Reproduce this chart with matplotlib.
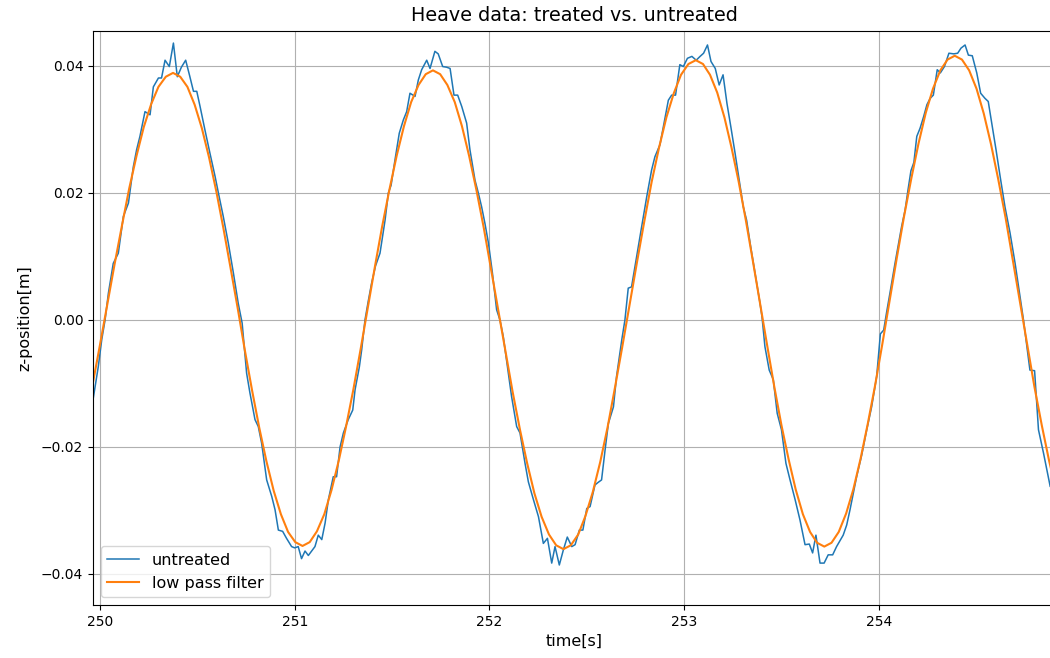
import matplotlib.pyplot as plt

# untreated signal
t_raw = [
    249.964, 249.991, 250.009, 250.026, 250.043, 250.068, 250.094, 250.120, 250.146, 250.171,
    250.188, 250.205, 250.231, 250.257, 250.274, 250.300, 250.316, 250.334, 250.356, 250.377,
    250.397, 250.418, 250.440, 250.460, 250.480, 250.497, 250.514, 250.539, 250.565, 250.591,
    250.608, 250.633, 250.659, 250.685, 250.710, 250.730, 250.753, 250.770, 250.796, 250.813,
    250.830, 250.856, 250.882, 250.899, 250.916, 250.938, 250.958, 250.984, 251.000, 251.018,
    251.035, 251.053, 251.070, 251.087, 251.104, 251.121, 251.139, 251.156, 251.173, 251.198,
    251.215, 251.233, 251.250, 251.275, 251.298, 251.310, 251.332, 251.344, 251.361, 251.378,
    251.395, 251.415, 251.438, 251.464, 251.481, 251.495, 251.515, 251.537, 251.558, 251.575,
    251.592, 251.618, 251.635, 251.652, 251.678, 251.695, 251.720, 251.737, 251.760, 251.780,
    251.798, 251.818, 251.837, 251.858, 251.883, 251.900, 251.926, 251.943, 251.960, 251.977,
    251.995, 252.015, 252.037, 252.054, 252.071, 252.097, 252.114, 252.140, 252.157, 252.183,
    252.200, 252.226, 252.252, 252.277, 252.298, 252.320, 252.337, 252.359, 252.380, 252.400,
    252.423, 252.440, 252.462, 252.480, 252.500, 252.517, 252.542, 252.558, 252.576, 252.594,
    252.611, 252.637, 252.653, 252.680, 252.696, 252.713, 252.730, 252.756, 252.782, 252.808,
    252.833, 252.850, 252.876, 252.893, 252.919, 252.936, 252.956, 252.978, 252.996, 253.017,
    253.040, 253.062, 253.082, 253.100, 253.120, 253.138, 253.160, 253.180, 253.200, 253.220,
    253.240, 253.262, 253.283, 253.304, 253.321, 253.342, 253.364, 253.390, 253.400, 253.415,
    253.437, 253.458, 253.478, 253.500, 253.523, 253.544, 253.570, 253.595, 253.621, 253.643,
    253.660, 253.677, 253.698, 253.719, 253.740, 253.763, 253.783, 253.800, 253.817, 253.835,
    253.852, 253.869, 253.886, 253.912, 253.938, 253.963, 253.989, 254.008, 254.025, 254.040,
    254.057, 254.083, 254.100, 254.117, 254.135, 254.150, 254.165, 254.180, 254.195, 254.212,
    254.230, 254.247, 254.264, 254.280, 254.300, 254.316, 254.337, 254.360, 254.385, 254.405,
    254.422, 254.443, 254.460, 254.480, 254.503, 254.523, 254.545, 254.562, 254.580, 254.602,
    254.623, 254.648, 254.674, 254.700, 254.725, 254.743, 254.760, 254.776, 254.800, 254.820,
    254.846, 254.880,
]
z_raw = [
    -0.0126, -0.0074, -0.0031, 0.0000, 0.0042, 0.0089, 0.0105, 0.0163, 0.0184, 0.0241,
    0.0268, 0.0289, 0.0328, 0.0323, 0.0367, 0.0381, 0.0381, 0.0409, 0.0399, 0.0436,
    0.0383, 0.0398, 0.0409, 0.0385, 0.0360, 0.0360, 0.0336, 0.0299, 0.0262, 0.0226,
    0.0200, 0.0163, 0.0121, 0.0074, 0.0026, -0.0005, -0.0084, -0.0115, -0.0157, -0.0168,
    -0.0194, -0.0252, -0.0278, -0.0299, -0.0331, -0.0333, -0.0344, -0.0357, -0.0359, -0.0357,
    -0.0376, -0.0364, -0.0371, -0.0364, -0.0357, -0.0339, -0.0346, -0.0320, -0.0283, -0.0247,
    -0.0247, -0.0200, -0.0178, -0.0157, -0.0142, -0.0110, -0.0074, -0.0047, 0.0000, 0.0030,
    0.0058, 0.0085, 0.0105, 0.0157, 0.0200, 0.0212, 0.0252, 0.0294, 0.0315, 0.0328,
    0.0357, 0.0352, 0.0378, 0.0394, 0.0409, 0.0396, 0.0423, 0.0419, 0.0399, 0.0398,
    0.0396, 0.0354, 0.0354, 0.0336, 0.0310, 0.0268, 0.0220, 0.0200, 0.0178, 0.0152,
    0.0121, 0.0075, 0.0016, 0.0000, -0.0026, -0.0084, -0.0121, -0.0168, -0.0178, -0.0226,
    -0.0255, -0.0283, -0.0310, -0.0352, -0.0344, -0.0383, -0.0357, -0.0386, -0.0362, -0.0342,
    -0.0357, -0.0354, -0.0331, -0.0331, -0.0297, -0.0294, -0.0260, -0.0256, -0.0252, -0.0205,
    -0.0163, -0.0137, -0.0089, -0.0031, 0.0000, 0.0050, 0.0052, 0.0100, 0.0147, 0.0194,
    0.0236, 0.0257, 0.0276, 0.0304, 0.0346, 0.0354, 0.0354, 0.0402, 0.0399, 0.0412,
    0.0415, 0.0409, 0.0415, 0.0420, 0.0433, 0.0407, 0.0396, 0.0370, 0.0386, 0.0341,
    0.0304, 0.0262, 0.0220, 0.0178, 0.0157, 0.0115, 0.0074, 0.0026, 0.0005, -0.0042,
    -0.0079, -0.0094, -0.0147, -0.0173, -0.0226, -0.0252, -0.0283, -0.0315, -0.0354, -0.0353,
    -0.0367, -0.0339, -0.0383, -0.0383, -0.0370, -0.0370, -0.0357, -0.0348, -0.0339, -0.0323,
    -0.0299, -0.0273, -0.0247, -0.0213, -0.0173, -0.0137, -0.0089, -0.0022, -0.0016, 0.0012,
    0.0042, 0.0089, 0.0118, 0.0147, 0.0173, 0.0205, 0.0235, 0.0248, 0.0289, 0.0302,
    0.0320, 0.0339, 0.0349, 0.0354, 0.0394, 0.0389, 0.0399, 0.0420, 0.0419, 0.0420,
    0.0428, 0.0433, 0.0417, 0.0416, 0.0389, 0.0357, 0.0349, 0.0344, 0.0310, 0.0268,
    0.0226, 0.0178, 0.0137, 0.0089, 0.0037, 0.0000, -0.0040, -0.0079, -0.0080, -0.0173,
    -0.0210, -0.0262,
]

# low pass filtered signal
t_filt = [
    249.963, 250.000, 250.038, 250.075, 250.113, 250.150, 250.188, 250.225, 250.263, 250.300,
    250.338, 250.375, 250.412, 250.449, 250.486, 250.523, 250.560, 250.597, 250.634, 250.671,
    250.708, 250.744, 250.781, 250.818, 250.855, 250.892, 250.929, 250.966, 251.003, 251.040,
    251.077, 251.114, 251.152, 251.189, 251.226, 251.263, 251.301, 251.338, 251.375, 251.412,
    251.449, 251.487, 251.524, 251.561, 251.598, 251.636, 251.673, 251.710, 251.747, 251.784,
    251.822, 251.859, 251.896, 251.933, 251.971, 252.008, 252.045, 252.082, 252.119, 252.157,
    252.194, 252.231, 252.268, 252.306, 252.343, 252.380, 252.418, 252.456, 252.493, 252.531,
    252.569, 252.607, 252.644, 252.682, 252.720, 252.758, 252.796, 252.833, 252.871, 252.909,
    252.947, 252.984, 253.022, 253.060, 253.097, 253.133, 253.170, 253.207, 253.243, 253.280,
    253.317, 253.353, 253.390, 253.427, 253.463, 253.500, 253.537, 253.573, 253.610, 253.647,
    253.683, 253.720, 253.757, 253.794, 253.832, 253.869, 253.906, 253.943, 253.981, 254.018,
    254.055, 254.092, 254.129, 254.167, 254.204, 254.241, 254.278, 254.316, 254.353, 254.390,
    254.427, 254.464, 254.502, 254.539, 254.576, 254.613, 254.651, 254.688, 254.725, 254.762,
    254.799, 254.837, 254.874, 254.911,
]
z_filt = [
    -0.0100, -0.0039, 0.0025, 0.0088, 0.0149, 0.0207, 0.0259, 0.0304, 0.0340, 0.0367,
    0.0383, 0.0389, 0.0383, 0.0367, 0.0339, 0.0302, 0.0256, 0.0203, 0.0144, 0.0081,
    0.0017, -0.0048, -0.0111, -0.0170, -0.0223, -0.0269, -0.0306, -0.0334, -0.0350, -0.0356,
    -0.0350, -0.0333, -0.0306, -0.0268, -0.0222, -0.0169, -0.0110, -0.0047, 0.0019, 0.0084,
    0.0147, 0.0206, 0.0259, 0.0305, 0.0343, 0.0370, 0.0387, 0.0393, 0.0387, 0.0370,
    0.0343, 0.0305, 0.0258, 0.0205, 0.0145, 0.0081, 0.0016, -0.0049, -0.0113, -0.0173,
    -0.0226, -0.0273, -0.0310, -0.0338, -0.0355, -0.0361, -0.0355, -0.0338, -0.0309, -0.0271,
    -0.0224, -0.0169, -0.0108, -0.0043, 0.0024, 0.0091, 0.0156, 0.0217, 0.0271, 0.0319,
    0.0357, 0.0386, 0.0403, 0.0409, 0.0403, 0.0386, 0.0358, 0.0319, 0.0272, 0.0218,
    0.0157, 0.0093, 0.0026, -0.0041, -0.0105, -0.0166, -0.0220, -0.0267, -0.0306, -0.0334,
    -0.0351, -0.0357, -0.0351, -0.0334, -0.0305, -0.0267, -0.0219, -0.0164, -0.0103, -0.0038,
    0.0030, 0.0097, 0.0162, 0.0223, 0.0278, 0.0326, 0.0364, 0.0393, 0.0410, 0.0416,
    0.0410, 0.0393, 0.0364, 0.0325, 0.0277, 0.0222, 0.0161, 0.0095, 0.0028, -0.0039,
    -0.0105, -0.0166, -0.0221, -0.0269,
]

fig = plt.figure(figsize=(10.5, 6.58), dpi=100)
ax = fig.add_axes([93 / 1050, 1 - 605 / 658, (1056 - 93) / 1050, (605 - 31) / 658])

ax.plot(t_raw, z_raw, linewidth=1.1, label="untreated")
ax.plot(t_filt, z_filt, linewidth=1.5, label="low pass filter")

ax.set_xlim(249.964, 254.91)
ax.set_ylim(-0.0449, 0.0455)
ax.set_xticks([250, 251, 252, 253, 254])
ax.set_yticks([-0.04, -0.02, 0.0, 0.02, 0.04])
ax.tick_params(labelsize=10)
ax.set_xlabel("time[s]", fontsize=11.5)
ax.set_ylabel("z-position[m]", fontsize=11.5, labelpad=6)
ax.set_title("Heave data: treated vs. untreated", fontsize=13.8, pad=7)
ax.grid(True)
ax.legend(loc="lower left", fontsize=11.5)

fig.savefig("out.png", dpi=100)
